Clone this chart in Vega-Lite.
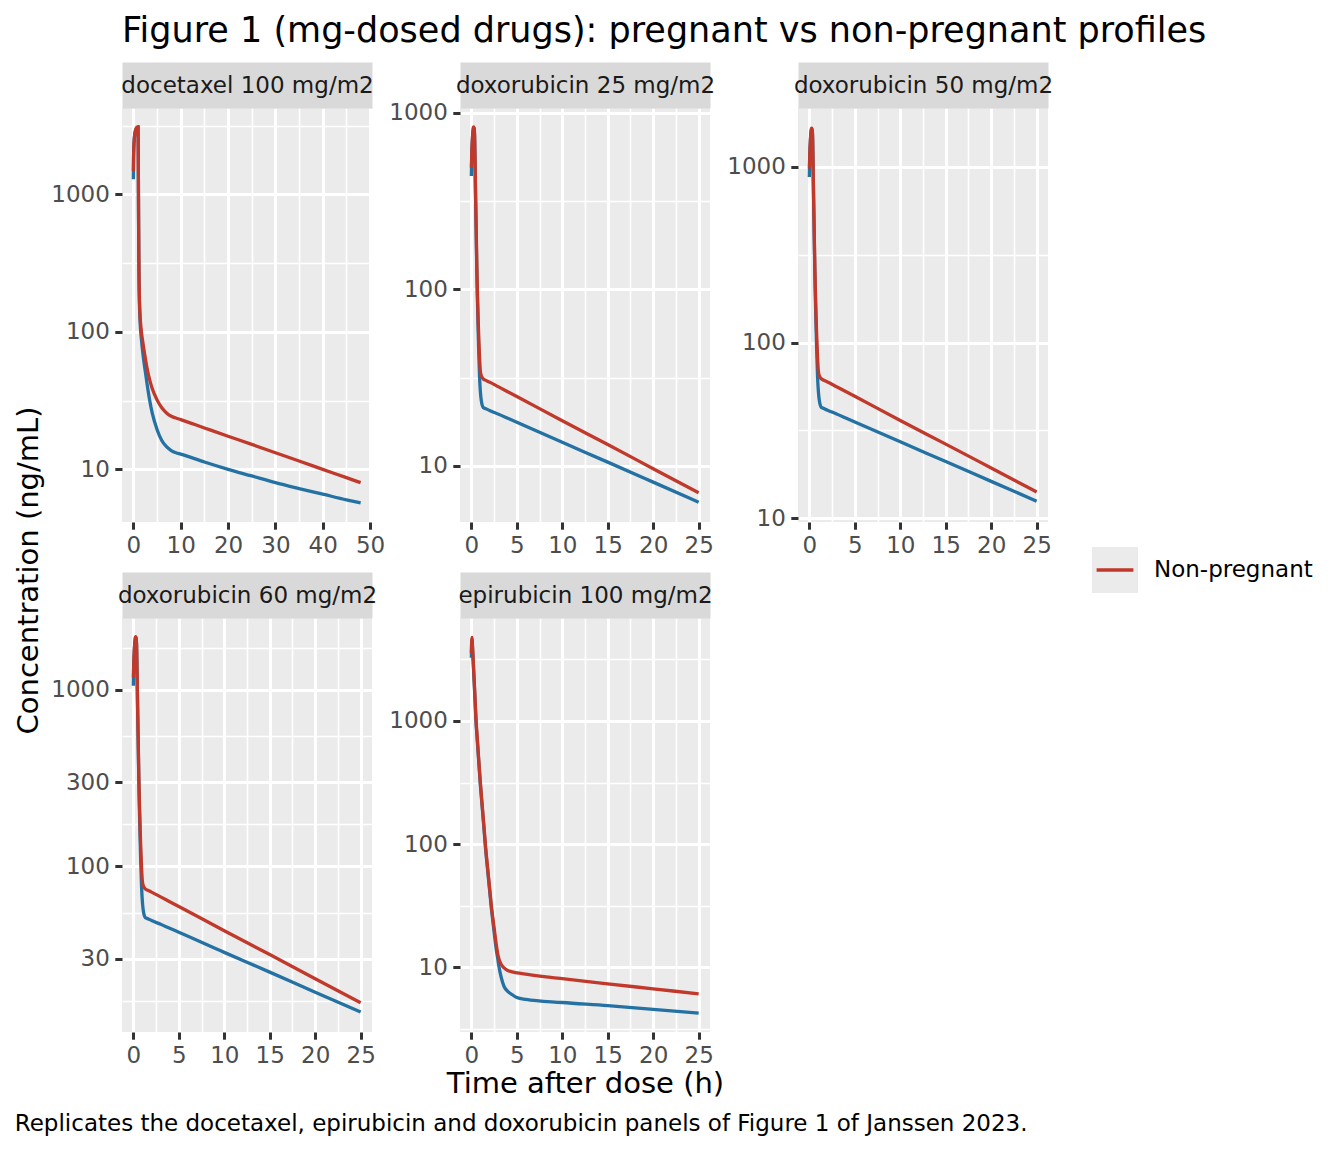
{
  "$schema": "https://vega.github.io/schema/vega-lite/v6.json",
  "background": "white",
  "padding": {"left": 14, "top": 14, "right": 5, "bottom": 5},
  "title": {"text": "Replicates the docetaxel, epirubicin and doxorubicin panels of Figure 1 of Janssen 2023.", "orient": "bottom", "anchor": "start", "frame": "bounds", "fontSize": 23, "fontWeight": "normal", "color": "#000000", "offset": 14},
  "datasets": {
    "docetaxel": [
      {"time":0,"conc":1480,"group":"Non-pregnant"},{"time":0.05,"conc":1900,"group":"Non-pregnant"},{"time":0.1,"conc":2200,"group":"Non-pregnant"},{"time":0.2,"conc":2550,"group":"Non-pregnant"},{"time":0.3,"conc":2750,"group":"Non-pregnant"},{"time":0.4,"conc":2880,"group":"Non-pregnant"},{"time":0.5,"conc":2960,"group":"Non-pregnant"},{"time":0.6,"conc":3020,"group":"Non-pregnant"},{"time":0.7,"conc":3060,"group":"Non-pregnant"},{"time":0.8,"conc":3080,"group":"Non-pregnant"},{"time":0.9,"conc":3095,"group":"Non-pregnant"},{"time":1,"conc":3100,"group":"Non-pregnant"},{"time":1.05,"conc":1500,"group":"Non-pregnant"},{"time":1.1,"conc":700,"group":"Non-pregnant"},{"time":1.15,"conc":380,"group":"Non-pregnant"},{"time":1.2,"conc":250,"group":"Non-pregnant"},{"time":1.3,"conc":165,"group":"Non-pregnant"},{"time":1.4,"conc":135,"group":"Non-pregnant"},{"time":1.5,"conc":118,"group":"Non-pregnant"},{"time":1.7,"conc":100,"group":"Non-pregnant"},{"time":2,"conc":84,"group":"Non-pregnant"},{"time":2.5,"conc":65,"group":"Non-pregnant"},{"time":3,"conc":52,"group":"Non-pregnant"},{"time":3.5,"conc":44,"group":"Non-pregnant"},{"time":4,"conc":38.5,"group":"Non-pregnant"},{"time":5,"conc":32,"group":"Non-pregnant"},{"time":6,"conc":28,"group":"Non-pregnant"},{"time":7,"conc":25.7,"group":"Non-pregnant"},{"time":8,"conc":24.3,"group":"Non-pregnant"},{"time":9,"conc":23.6,"group":"Non-pregnant"},{"time":10,"conc":23,"group":"Non-pregnant"},{"time":15,"conc":20,"group":"Non-pregnant"},{"time":20,"conc":17.4,"group":"Non-pregnant"},{"time":25,"conc":15.2,"group":"Non-pregnant"},{"time":30,"conc":13.2,"group":"Non-pregnant"},{"time":35,"conc":11.5,"group":"Non-pregnant"},{"time":40,"conc":10,"group":"Non-pregnant"},{"time":45,"conc":8.7,"group":"Non-pregnant"},{"time":48,"conc":8,"group":"Non-pregnant"},
      {"time":0,"conc":1285,"group":"Pregnant"},{"time":0.05,"conc":1870,"group":"Pregnant"},{"time":0.1,"conc":2180,"group":"Pregnant"},{"time":0.2,"conc":2520,"group":"Pregnant"},{"time":0.3,"conc":2720,"group":"Pregnant"},{"time":0.4,"conc":2850,"group":"Pregnant"},{"time":0.5,"conc":2930,"group":"Pregnant"},{"time":0.6,"conc":2990,"group":"Pregnant"},{"time":0.7,"conc":3030,"group":"Pregnant"},{"time":0.8,"conc":3050,"group":"Pregnant"},{"time":0.9,"conc":3065,"group":"Pregnant"},{"time":1,"conc":3070,"group":"Pregnant"},{"time":1.05,"conc":1450,"group":"Pregnant"},{"time":1.1,"conc":660,"group":"Pregnant"},{"time":1.15,"conc":350,"group":"Pregnant"},{"time":1.2,"conc":230,"group":"Pregnant"},{"time":1.3,"conc":152,"group":"Pregnant"},{"time":1.4,"conc":123,"group":"Pregnant"},{"time":1.5,"conc":106,"group":"Pregnant"},{"time":1.7,"conc":88,"group":"Pregnant"},{"time":2,"conc":70,"group":"Pregnant"},{"time":2.5,"conc":52,"group":"Pregnant"},{"time":3,"conc":39.5,"group":"Pregnant"},{"time":3.5,"conc":31,"group":"Pregnant"},{"time":4,"conc":25.5,"group":"Pregnant"},{"time":5,"conc":19.5,"group":"Pregnant"},{"time":6,"conc":16.2,"group":"Pregnant"},{"time":7,"conc":14.6,"group":"Pregnant"},{"time":8,"conc":13.7,"group":"Pregnant"},{"time":9,"conc":13.2,"group":"Pregnant"},{"time":10,"conc":12.9,"group":"Pregnant"},{"time":15,"conc":11.3,"group":"Pregnant"},{"time":20,"conc":10,"group":"Pregnant"},{"time":25,"conc":8.95,"group":"Pregnant"},{"time":30,"conc":8,"group":"Pregnant"},{"time":35,"conc":7.25,"group":"Pregnant"},{"time":40,"conc":6.6,"group":"Pregnant"},{"time":45,"conc":6,"group":"Pregnant"},{"time":48,"conc":5.7,"group":"Pregnant"}
    ],
    "dox25": [
      {"time":0,"conc":489,"group":"Non-pregnant"},{"time":0.05,"conc":600,"group":"Non-pregnant"},{"time":0.1,"conc":690,"group":"Non-pregnant"},{"time":0.15,"conc":760,"group":"Non-pregnant"},{"time":0.2,"conc":810,"group":"Non-pregnant"},{"time":0.25,"conc":830,"group":"Non-pregnant"},{"time":0.3,"conc":820,"group":"Non-pregnant"},{"time":0.35,"conc":760,"group":"Non-pregnant"},{"time":0.4,"conc":560,"group":"Non-pregnant"},{"time":0.45,"conc":380,"group":"Non-pregnant"},{"time":0.5,"conc":270,"group":"Non-pregnant"},{"time":0.55,"conc":190,"group":"Non-pregnant"},{"time":0.6,"conc":135,"group":"Non-pregnant"},{"time":0.65,"conc":103,"group":"Non-pregnant"},{"time":0.7,"conc":82,"group":"Non-pregnant"},{"time":0.75,"conc":67,"group":"Non-pregnant"},{"time":0.8,"conc":56,"group":"Non-pregnant"},{"time":0.9,"conc":41,"group":"Non-pregnant"},{"time":1,"conc":34,"group":"Non-pregnant"},{"time":1.1,"conc":32.3,"group":"Non-pregnant"},{"time":1.2,"conc":31.6,"group":"Non-pregnant"},{"time":1.3,"conc":31.1,"group":"Non-pregnant"},{"time":1.6,"conc":30.5,"group":"Non-pregnant"},{"time":2,"conc":29.8,"group":"Non-pregnant"},{"time":3,"conc":28,"group":"Non-pregnant"},{"time":4,"conc":26.3,"group":"Non-pregnant"},{"time":5,"conc":24.7,"group":"Non-pregnant"},{"time":10,"conc":18,"group":"Non-pregnant"},{"time":15,"conc":13.2,"group":"Non-pregnant"},{"time":20,"conc":9.64,"group":"Non-pregnant"},{"time":25,"conc":7.05,"group":"Non-pregnant"},
      {"time":0,"conc":438,"group":"Pregnant"},{"time":0.05,"conc":594,"group":"Pregnant"},{"time":0.1,"conc":683,"group":"Pregnant"},{"time":0.15,"conc":752,"group":"Pregnant"},{"time":0.2,"conc":802,"group":"Pregnant"},{"time":0.25,"conc":822,"group":"Pregnant"},{"time":0.3,"conc":812,"group":"Pregnant"},{"time":0.35,"conc":752,"group":"Pregnant"},{"time":0.4,"conc":548,"group":"Pregnant"},{"time":0.45,"conc":370,"group":"Pregnant"},{"time":0.5,"conc":260,"group":"Pregnant"},{"time":0.55,"conc":182,"group":"Pregnant"},{"time":0.6,"conc":128,"group":"Pregnant"},{"time":0.65,"conc":96,"group":"Pregnant"},{"time":0.7,"conc":74,"group":"Pregnant"},{"time":0.75,"conc":58,"group":"Pregnant"},{"time":0.8,"conc":46,"group":"Pregnant"},{"time":0.9,"conc":32,"group":"Pregnant"},{"time":1,"conc":26,"group":"Pregnant"},{"time":1.1,"conc":23.3,"group":"Pregnant"},{"time":1.2,"conc":22,"group":"Pregnant"},{"time":1.3,"conc":21.4,"group":"Pregnant"},{"time":1.6,"conc":21.07,"group":"Pregnant"},{"time":2,"conc":20.6,"group":"Pregnant"},{"time":3,"conc":19.6,"group":"Pregnant"},{"time":4,"conc":18.6,"group":"Pregnant"},{"time":5,"conc":17.65,"group":"Pregnant"},{"time":10,"conc":13.6,"group":"Pregnant"},{"time":15,"conc":10.5,"group":"Pregnant"},{"time":20,"conc":8.09,"group":"Pregnant"},{"time":25,"conc":6.23,"group":"Pregnant"}
    ],
    "dox50": [
      {"time":0,"conc":978,"group":"Non-pregnant"},{"time":0.05,"conc":1200,"group":"Non-pregnant"},{"time":0.1,"conc":1380,"group":"Non-pregnant"},{"time":0.15,"conc":1520,"group":"Non-pregnant"},{"time":0.2,"conc":1620,"group":"Non-pregnant"},{"time":0.25,"conc":1660,"group":"Non-pregnant"},{"time":0.3,"conc":1640,"group":"Non-pregnant"},{"time":0.35,"conc":1520,"group":"Non-pregnant"},{"time":0.4,"conc":1120,"group":"Non-pregnant"},{"time":0.45,"conc":760,"group":"Non-pregnant"},{"time":0.5,"conc":540,"group":"Non-pregnant"},{"time":0.55,"conc":380,"group":"Non-pregnant"},{"time":0.6,"conc":270,"group":"Non-pregnant"},{"time":0.65,"conc":206,"group":"Non-pregnant"},{"time":0.7,"conc":164,"group":"Non-pregnant"},{"time":0.75,"conc":134,"group":"Non-pregnant"},{"time":0.8,"conc":112,"group":"Non-pregnant"},{"time":0.9,"conc":82,"group":"Non-pregnant"},{"time":1,"conc":68,"group":"Non-pregnant"},{"time":1.1,"conc":64.6,"group":"Non-pregnant"},{"time":1.2,"conc":63.2,"group":"Non-pregnant"},{"time":1.3,"conc":62.2,"group":"Non-pregnant"},{"time":1.6,"conc":61,"group":"Non-pregnant"},{"time":2,"conc":59.6,"group":"Non-pregnant"},{"time":3,"conc":56,"group":"Non-pregnant"},{"time":4,"conc":52.6,"group":"Non-pregnant"},{"time":5,"conc":49.4,"group":"Non-pregnant"},{"time":10,"conc":36,"group":"Non-pregnant"},{"time":15,"conc":26.4,"group":"Non-pregnant"},{"time":20,"conc":19.3,"group":"Non-pregnant"},{"time":25,"conc":14.1,"group":"Non-pregnant"},
      {"time":0,"conc":876,"group":"Pregnant"},{"time":0.05,"conc":1188,"group":"Pregnant"},{"time":0.1,"conc":1366,"group":"Pregnant"},{"time":0.15,"conc":1504,"group":"Pregnant"},{"time":0.2,"conc":1604,"group":"Pregnant"},{"time":0.25,"conc":1644,"group":"Pregnant"},{"time":0.3,"conc":1624,"group":"Pregnant"},{"time":0.35,"conc":1504,"group":"Pregnant"},{"time":0.4,"conc":1096,"group":"Pregnant"},{"time":0.45,"conc":740,"group":"Pregnant"},{"time":0.5,"conc":520,"group":"Pregnant"},{"time":0.55,"conc":364,"group":"Pregnant"},{"time":0.6,"conc":256,"group":"Pregnant"},{"time":0.65,"conc":192,"group":"Pregnant"},{"time":0.7,"conc":148,"group":"Pregnant"},{"time":0.75,"conc":116,"group":"Pregnant"},{"time":0.8,"conc":92,"group":"Pregnant"},{"time":0.9,"conc":64,"group":"Pregnant"},{"time":1,"conc":52,"group":"Pregnant"},{"time":1.1,"conc":46.6,"group":"Pregnant"},{"time":1.2,"conc":44,"group":"Pregnant"},{"time":1.3,"conc":42.8,"group":"Pregnant"},{"time":1.6,"conc":42.1,"group":"Pregnant"},{"time":2,"conc":41.2,"group":"Pregnant"},{"time":3,"conc":39.2,"group":"Pregnant"},{"time":4,"conc":37.2,"group":"Pregnant"},{"time":5,"conc":35.3,"group":"Pregnant"},{"time":10,"conc":27.2,"group":"Pregnant"},{"time":15,"conc":21,"group":"Pregnant"},{"time":20,"conc":16.2,"group":"Pregnant"},{"time":25,"conc":12.5,"group":"Pregnant"}
    ],
    "dox60": [
      {"time":0,"conc":1174,"group":"Non-pregnant"},{"time":0.05,"conc":1440,"group":"Non-pregnant"},{"time":0.1,"conc":1656,"group":"Non-pregnant"},{"time":0.15,"conc":1824,"group":"Non-pregnant"},{"time":0.2,"conc":1944,"group":"Non-pregnant"},{"time":0.25,"conc":1992,"group":"Non-pregnant"},{"time":0.3,"conc":1968,"group":"Non-pregnant"},{"time":0.35,"conc":1824,"group":"Non-pregnant"},{"time":0.4,"conc":1344,"group":"Non-pregnant"},{"time":0.45,"conc":912,"group":"Non-pregnant"},{"time":0.5,"conc":648,"group":"Non-pregnant"},{"time":0.55,"conc":456,"group":"Non-pregnant"},{"time":0.6,"conc":324,"group":"Non-pregnant"},{"time":0.65,"conc":247,"group":"Non-pregnant"},{"time":0.7,"conc":197,"group":"Non-pregnant"},{"time":0.75,"conc":161,"group":"Non-pregnant"},{"time":0.8,"conc":134,"group":"Non-pregnant"},{"time":0.9,"conc":98.4,"group":"Non-pregnant"},{"time":1,"conc":81.6,"group":"Non-pregnant"},{"time":1.1,"conc":77.5,"group":"Non-pregnant"},{"time":1.2,"conc":75.8,"group":"Non-pregnant"},{"time":1.3,"conc":74.6,"group":"Non-pregnant"},{"time":1.6,"conc":73.2,"group":"Non-pregnant"},{"time":2,"conc":71.5,"group":"Non-pregnant"},{"time":3,"conc":67.2,"group":"Non-pregnant"},{"time":4,"conc":63.1,"group":"Non-pregnant"},{"time":5,"conc":59.3,"group":"Non-pregnant"},{"time":10,"conc":43.2,"group":"Non-pregnant"},{"time":15,"conc":31.7,"group":"Non-pregnant"},{"time":20,"conc":23.1,"group":"Non-pregnant"},{"time":25,"conc":16.9,"group":"Non-pregnant"},
      {"time":0,"conc":1051,"group":"Pregnant"},{"time":0.05,"conc":1426,"group":"Pregnant"},{"time":0.1,"conc":1639,"group":"Pregnant"},{"time":0.15,"conc":1805,"group":"Pregnant"},{"time":0.2,"conc":1925,"group":"Pregnant"},{"time":0.25,"conc":1973,"group":"Pregnant"},{"time":0.3,"conc":1949,"group":"Pregnant"},{"time":0.35,"conc":1805,"group":"Pregnant"},{"time":0.4,"conc":1315,"group":"Pregnant"},{"time":0.45,"conc":888,"group":"Pregnant"},{"time":0.5,"conc":624,"group":"Pregnant"},{"time":0.55,"conc":437,"group":"Pregnant"},{"time":0.6,"conc":307,"group":"Pregnant"},{"time":0.65,"conc":230,"group":"Pregnant"},{"time":0.7,"conc":178,"group":"Pregnant"},{"time":0.75,"conc":139,"group":"Pregnant"},{"time":0.8,"conc":110,"group":"Pregnant"},{"time":0.9,"conc":76.8,"group":"Pregnant"},{"time":1,"conc":62.4,"group":"Pregnant"},{"time":1.1,"conc":55.9,"group":"Pregnant"},{"time":1.2,"conc":52.8,"group":"Pregnant"},{"time":1.3,"conc":51.4,"group":"Pregnant"},{"time":1.6,"conc":50.6,"group":"Pregnant"},{"time":2,"conc":49.4,"group":"Pregnant"},{"time":3,"conc":47,"group":"Pregnant"},{"time":4,"conc":44.6,"group":"Pregnant"},{"time":5,"conc":42.4,"group":"Pregnant"},{"time":10,"conc":32.6,"group":"Pregnant"},{"time":15,"conc":25.2,"group":"Pregnant"},{"time":20,"conc":19.4,"group":"Pregnant"},{"time":25,"conc":15,"group":"Pregnant"}
    ],
    "epi": [
      {"time":0,"conc":3550,"group":"Non-pregnant"},{"time":0.04,"conc":4500,"group":"Non-pregnant"},{"time":0.08,"conc":4770,"group":"Non-pregnant"},{"time":0.12,"conc":4150,"group":"Non-pregnant"},{"time":0.2,"conc":3150,"group":"Non-pregnant"},{"time":0.3,"conc":2220,"group":"Non-pregnant"},{"time":0.4,"conc":1550,"group":"Non-pregnant"},{"time":0.52,"conc":1000,"group":"Non-pregnant"},{"time":0.65,"conc":725,"group":"Non-pregnant"},{"time":0.8,"conc":500,"group":"Non-pregnant"},{"time":0.99,"conc":316,"group":"Non-pregnant"},{"time":1.2,"conc":204,"group":"Non-pregnant"},{"time":1.4,"conc":135,"group":"Non-pregnant"},{"time":1.54,"conc":100,"group":"Non-pregnant"},{"time":1.8,"conc":63,"group":"Non-pregnant"},{"time":2,"conc":44.7,"group":"Non-pregnant"},{"time":2.2,"conc":31.6,"group":"Non-pregnant"},{"time":2.4,"conc":24,"group":"Non-pregnant"},{"time":2.6,"conc":18.4,"group":"Non-pregnant"},{"time":2.75,"conc":15.1,"group":"Non-pregnant"},{"time":2.9,"conc":12.9,"group":"Non-pregnant"},{"time":3.05,"conc":11.6,"group":"Non-pregnant"},{"time":3.3,"conc":10.5,"group":"Non-pregnant"},{"time":3.6,"conc":9.9,"group":"Non-pregnant"},{"time":4,"conc":9.45,"group":"Non-pregnant"},{"time":4.5,"conc":9.2,"group":"Non-pregnant"},{"time":5.57,"conc":8.9,"group":"Non-pregnant"},{"time":10,"conc":8.1,"group":"Non-pregnant"},{"time":15,"conc":7.36,"group":"Non-pregnant"},{"time":20,"conc":6.7,"group":"Non-pregnant"},{"time":25,"conc":6.1,"group":"Non-pregnant"},
      {"time":0,"conc":3260,"group":"Pregnant"},{"time":0.04,"conc":4320,"group":"Pregnant"},{"time":0.08,"conc":4580,"group":"Pregnant"},{"time":0.12,"conc":3980,"group":"Pregnant"},{"time":0.2,"conc":3020,"group":"Pregnant"},{"time":0.3,"conc":2130,"group":"Pregnant"},{"time":0.4,"conc":1490,"group":"Pregnant"},{"time":0.52,"conc":960,"group":"Pregnant"},{"time":0.65,"conc":696,"group":"Pregnant"},{"time":0.8,"conc":480,"group":"Pregnant"},{"time":0.99,"conc":303,"group":"Pregnant"},{"time":1.2,"conc":196,"group":"Pregnant"},{"time":1.4,"conc":130,"group":"Pregnant"},{"time":1.54,"conc":96,"group":"Pregnant"},{"time":1.8,"conc":60.5,"group":"Pregnant"},{"time":2,"conc":42.9,"group":"Pregnant"},{"time":2.2,"conc":30.2,"group":"Pregnant"},{"time":2.4,"conc":22.5,"group":"Pregnant"},{"time":2.6,"conc":16.8,"group":"Pregnant"},{"time":2.75,"conc":13.8,"group":"Pregnant"},{"time":2.9,"conc":11.8,"group":"Pregnant"},{"time":3.05,"conc":10,"group":"Pregnant"},{"time":3.3,"conc":8.2,"group":"Pregnant"},{"time":3.6,"conc":7,"group":"Pregnant"},{"time":4,"conc":6.4,"group":"Pregnant"},{"time":4.5,"conc":6,"group":"Pregnant"},{"time":5,"conc":5.7,"group":"Pregnant"},{"time":6,"conc":5.5,"group":"Pregnant"},{"time":10,"conc":5.19,"group":"Pregnant"},{"time":15,"conc":4.9,"group":"Pregnant"},{"time":20,"conc":4.57,"group":"Pregnant"},{"time":25,"conc":4.25,"group":"Pregnant"}
    ]
  },
  "vconcat": [
    {
      "title": {"text": "Figure 1 (mg-dosed drugs): pregnant vs non-pregnant profiles", "anchor": "start", "frame": "group", "fontSize": 35, "fontWeight": "normal", "color": "#000000", "offset": 25},
      "columns": 3,
      "bounds": "flush",
      "spacing": {"row": 96, "column": 88},
      "concat": [
        {
          "width": 250, "height": 414,
          "data": {"name": "docetaxel"},
          "layer": [
            {"transform": [{"filter": "datum.group === 'Pregnant'"}],
             "mark": {"type": "line", "strokeWidth": 3.3, "interpolate": "monotone"},
             "encoding": {
               "x": {"field": "time", "type": "quantitative", "scale": {"domain": [-2.4, 50.4], "nice": false, "zero": false},
                     "axis": {"orient": "top", "title": "docetaxel 100 mg/m2", "labels": false, "ticks": false, "grid": false, "domain": true, "domainColor": "#D9D9D9", "domainWidth": 46, "offset": 23, "titleY": 0, "titleBaseline": "middle", "titleFontSize": 23, "titleColor": "#1A1A1A", "titlePadding": 0}},
               "y": {"field": "conc", "type": "quantitative", "scale": {"type": "log", "domain": [4.14, 4242], "nice": false},
                     "axis": {"title": null, "values": [10, 31.62, 100, 316.2, 1000, 3162], "format": "d", "labelExpr": "indexof([10,100,1000], datum.value) >= 0 ? datum.label : ''", "tickOpacity": {"condition": {"test": "indexof([10,100,1000], datum.value) < 0", "value": 0}, "value": 1}, "gridWidth": {"condition": {"test": "indexof([10,100,1000], datum.value) < 0", "value": 1.6}, "value": 3}}},
               "color": {"field": "group", "type": "nominal", "scale": {"domain": ["Non-pregnant", "Pregnant"], "range": ["#C0392B", "#2471A3"]},
                         "legend": {"orient": "none", "legendX": 968, "legendY": 437, "title": null, "values": ["Non-pregnant"], "padding": 0, "symbolType": "M-0.8,0H1V-1H-1V1H1V0Z", "symbolSize": 2116, "symbolStrokeWidth": 3.3, "symbolDash": [36.8, 2000], "symbolFillColor": "#EBEBEB", "labelFontSize": 23, "labelColor": "#000000", "labelOffset": 14, "encode": {"symbols": {"update": {"fill": {"value": "#EBEBEB"}, "fillOpacity": {"value": 1}}}}}}
             }},
            {"transform": [{"filter": "datum.group === 'Non-pregnant'"}],
             "mark": {"type": "line", "strokeWidth": 3.3, "interpolate": "monotone"},
             "encoding": {
               "x": {"field": "time", "type": "quantitative", "scale": {"domain": [-2.4, 50.4], "nice": false, "zero": false},
                     "axis": {"orient": "bottom", "grid": true, "title": null, "values": [0,5,10,15,20,25,30,35,40,45,50], "format": "d", "labelExpr": "datum.value % 10 === 0 ? datum.label : ''", "tickOpacity": {"condition": {"test": "datum.value % 10 !== 0", "value": 0}, "value": 1}, "gridWidth": {"condition": {"test": "datum.value % 10 !== 0", "value": 1.6}, "value": 3}}},
               "y": {"field": "conc", "type": "quantitative", "scale": {"type": "log", "domain": [4.14, 4242], "nice": false},
                     "axis": {"title": null, "values": [10, 31.62, 100, 316.2, 1000, 3162], "format": "d", "labelExpr": "indexof([10,100,1000], datum.value) >= 0 ? datum.label : ''", "tickOpacity": {"condition": {"test": "indexof([10,100,1000], datum.value) < 0", "value": 0}, "value": 1}, "gridWidth": {"condition": {"test": "indexof([10,100,1000], datum.value) < 0", "value": 1.6}, "value": 3}}},
               "color": {"field": "group", "type": "nominal", "scale": {"domain": ["Non-pregnant", "Pregnant"], "range": ["#C0392B", "#2471A3"]},
                         "legend": {"orient": "none", "legendX": 968, "legendY": 437, "title": null, "values": ["Non-pregnant"], "padding": 0, "symbolType": "M-0.8,0H1V-1H-1V1H1V0Z", "symbolSize": 2116, "symbolStrokeWidth": 3.3, "symbolDash": [36.8, 2000], "symbolFillColor": "#EBEBEB", "labelFontSize": 23, "labelColor": "#000000", "labelOffset": 14, "encode": {"symbols": {"update": {"fill": {"value": "#EBEBEB"}, "fillOpacity": {"value": 1}}}}}}
             }}
          ],
          "resolve": {"axis": {"x": "independent"}}
        },
        {
          "width": 250, "height": 414,
          "data": {"name": "dox25"},
          "layer": [
            {"transform": [{"filter": "datum.group === 'Pregnant'"}],
             "mark": {"type": "line", "strokeWidth": 3.3, "interpolate": "monotone"},
             "encoding": {
               "x": {"field": "time", "type": "quantitative", "scale": {"domain": [-1.25, 26.25], "nice": false, "zero": false},
                     "axis": {"orient": "top", "title": "doxorubicin 25 mg/m2", "labels": false, "ticks": false, "grid": false, "domain": true, "domainColor": "#D9D9D9", "domainWidth": 46, "offset": 23, "titleY": 0, "titleBaseline": "middle", "titleFontSize": 23, "titleColor": "#1A1A1A", "titlePadding": 0}},
               "y": {"field": "conc", "type": "quantitative", "scale": {"type": "log", "domain": [4.81, 1063], "nice": false},
                     "axis": {"title": null, "values": [10, 31.62, 100, 316.2, 1000], "format": "d", "labelExpr": "indexof([10,100,1000], datum.value) >= 0 ? datum.label : ''", "tickOpacity": {"condition": {"test": "indexof([10,100,1000], datum.value) < 0", "value": 0}, "value": 1}, "gridWidth": {"condition": {"test": "indexof([10,100,1000], datum.value) < 0", "value": 1.6}, "value": 3}}},
               "color": {"field": "group", "type": "nominal", "scale": {"domain": ["Non-pregnant", "Pregnant"], "range": ["#C0392B", "#2471A3"]},
                         "legend": {"orient": "none", "legendX": 968, "legendY": 437, "title": null, "values": ["Non-pregnant"], "padding": 0, "symbolType": "M-0.8,0H1V-1H-1V1H1V0Z", "symbolSize": 2116, "symbolStrokeWidth": 3.3, "symbolDash": [36.8, 2000], "symbolFillColor": "#EBEBEB", "labelFontSize": 23, "labelColor": "#000000", "labelOffset": 14, "encode": {"symbols": {"update": {"fill": {"value": "#EBEBEB"}, "fillOpacity": {"value": 1}}}}}}
             }},
            {"transform": [{"filter": "datum.group === 'Non-pregnant'"}],
             "mark": {"type": "line", "strokeWidth": 3.3, "interpolate": "monotone"},
             "encoding": {
               "x": {"field": "time", "type": "quantitative", "scale": {"domain": [-1.25, 26.25], "nice": false, "zero": false},
                     "axis": {"orient": "bottom", "grid": true, "title": null, "values": [0,2.5,5,7.5,10,12.5,15,17.5,20,22.5,25], "format": "d", "labelExpr": "datum.value % 5 === 0 ? datum.label : ''", "tickOpacity": {"condition": {"test": "datum.value % 5 !== 0", "value": 0}, "value": 1}, "gridWidth": {"condition": {"test": "datum.value % 5 !== 0", "value": 1.6}, "value": 3}}},
               "y": {"field": "conc", "type": "quantitative", "scale": {"type": "log", "domain": [4.81, 1063], "nice": false},
                     "axis": {"title": null, "values": [10, 31.62, 100, 316.2, 1000], "format": "d", "labelExpr": "indexof([10,100,1000], datum.value) >= 0 ? datum.label : ''", "tickOpacity": {"condition": {"test": "indexof([10,100,1000], datum.value) < 0", "value": 0}, "value": 1}, "gridWidth": {"condition": {"test": "indexof([10,100,1000], datum.value) < 0", "value": 1.6}, "value": 3}}},
               "color": {"field": "group", "type": "nominal", "scale": {"domain": ["Non-pregnant", "Pregnant"], "range": ["#C0392B", "#2471A3"]},
                         "legend": {"orient": "none", "legendX": 968, "legendY": 437, "title": null, "values": ["Non-pregnant"], "padding": 0, "symbolType": "M-0.8,0H1V-1H-1V1H1V0Z", "symbolSize": 2116, "symbolStrokeWidth": 3.3, "symbolDash": [36.8, 2000], "symbolFillColor": "#EBEBEB", "labelFontSize": 23, "labelColor": "#000000", "labelOffset": 14, "encode": {"symbols": {"update": {"fill": {"value": "#EBEBEB"}, "fillOpacity": {"value": 1}}}}}}
             }}
          ],
          "resolve": {"axis": {"x": "independent"}}
        },
        {
          "width": 250, "height": 414,
          "data": {"name": "dox50"},
          "layer": [
            {"transform": [{"filter": "datum.group === 'Pregnant'"}],
             "mark": {"type": "line", "strokeWidth": 3.3, "interpolate": "monotone"},
             "encoding": {
               "x": {"field": "time", "type": "quantitative", "scale": {"domain": [-1.25, 26.25], "nice": false, "zero": false},
                     "axis": {"orient": "top", "title": "doxorubicin 50 mg/m2", "labels": false, "ticks": false, "grid": false, "domain": true, "domainColor": "#D9D9D9", "domainWidth": 46, "offset": 23, "titleY": 0, "titleBaseline": "middle", "titleFontSize": 23, "titleColor": "#1A1A1A", "titlePadding": 0}},
               "y": {"field": "conc", "type": "quantitative", "scale": {"type": "log", "domain": [9.51, 2163], "nice": false},
                     "axis": {"title": null, "values": [10, 31.62, 100, 316.2, 1000], "format": "d", "labelExpr": "indexof([10,100,1000], datum.value) >= 0 ? datum.label : ''", "tickOpacity": {"condition": {"test": "indexof([10,100,1000], datum.value) < 0", "value": 0}, "value": 1}, "gridWidth": {"condition": {"test": "indexof([10,100,1000], datum.value) < 0", "value": 1.6}, "value": 3}}},
               "color": {"field": "group", "type": "nominal", "scale": {"domain": ["Non-pregnant", "Pregnant"], "range": ["#C0392B", "#2471A3"]},
                         "legend": {"orient": "none", "legendX": 968, "legendY": 437, "title": null, "values": ["Non-pregnant"], "padding": 0, "symbolType": "M-0.8,0H1V-1H-1V1H1V0Z", "symbolSize": 2116, "symbolStrokeWidth": 3.3, "symbolDash": [36.8, 2000], "symbolFillColor": "#EBEBEB", "labelFontSize": 23, "labelColor": "#000000", "labelOffset": 14, "encode": {"symbols": {"update": {"fill": {"value": "#EBEBEB"}, "fillOpacity": {"value": 1}}}}}}
             }},
            {"transform": [{"filter": "datum.group === 'Non-pregnant'"}],
             "mark": {"type": "line", "strokeWidth": 3.3, "interpolate": "monotone"},
             "encoding": {
               "x": {"field": "time", "type": "quantitative", "scale": {"domain": [-1.25, 26.25], "nice": false, "zero": false},
                     "axis": {"orient": "bottom", "grid": true, "title": null, "values": [0,2.5,5,7.5,10,12.5,15,17.5,20,22.5,25], "format": "d", "labelExpr": "datum.value % 5 === 0 ? datum.label : ''", "tickOpacity": {"condition": {"test": "datum.value % 5 !== 0", "value": 0}, "value": 1}, "gridWidth": {"condition": {"test": "datum.value % 5 !== 0", "value": 1.6}, "value": 3}}},
               "y": {"field": "conc", "type": "quantitative", "scale": {"type": "log", "domain": [9.51, 2163], "nice": false},
                     "axis": {"title": null, "values": [10, 31.62, 100, 316.2, 1000], "format": "d", "labelExpr": "indexof([10,100,1000], datum.value) >= 0 ? datum.label : ''", "tickOpacity": {"condition": {"test": "indexof([10,100,1000], datum.value) < 0", "value": 0}, "value": 1}, "gridWidth": {"condition": {"test": "indexof([10,100,1000], datum.value) < 0", "value": 1.6}, "value": 3}}},
               "color": {"field": "group", "type": "nominal", "scale": {"domain": ["Non-pregnant", "Pregnant"], "range": ["#C0392B", "#2471A3"]},
                         "legend": {"orient": "none", "legendX": 968, "legendY": 437, "title": null, "values": ["Non-pregnant"], "padding": 0, "symbolType": "M-0.8,0H1V-1H-1V1H1V0Z", "symbolSize": 2116, "symbolStrokeWidth": 3.3, "symbolDash": [36.8, 2000], "symbolFillColor": "#EBEBEB", "labelFontSize": 23, "labelColor": "#000000", "labelOffset": 14, "encode": {"symbols": {"update": {"fill": {"value": "#EBEBEB"}, "fillOpacity": {"value": 1}}}}}}
             }}
          ],
          "resolve": {"axis": {"x": "independent"}}
        },
        {
          "width": 250, "height": 414,
          "data": {"name": "dox60"},
          "layer": [
            {"transform": [{"filter": "datum.group === 'Pregnant'"}],
             "mark": {"type": "line", "strokeWidth": 3.3, "interpolate": "monotone"},
             "encoding": {
               "x": {"field": "time", "type": "quantitative", "scale": {"domain": [-1.25, 26.25], "nice": false, "zero": false},
                     "axis": {"orient": "top", "title": "doxorubicin 60 mg/m2", "labels": false, "ticks": false, "grid": false, "domain": true, "domainColor": "#D9D9D9", "domainWidth": 46, "offset": 23, "titleY": 0, "titleBaseline": "middle", "titleFontSize": 23, "titleColor": "#1A1A1A", "titlePadding": 0}},
               "y": {"field": "conc", "type": "quantitative", "scale": {"type": "log", "domain": [11.55, 2544], "nice": false},
                     "axis": {"title": "Concentration (ng/mL)", "titleY": -48, "titlePadding": 7, "values": [17.32, 30, 54.77, 100, 173.2, 300, 547.7, 1000, 1732], "format": "d", "labelExpr": "indexof([30,100,300,1000], datum.value) >= 0 ? datum.label : ''", "tickOpacity": {"condition": {"test": "indexof([30,100,300,1000], datum.value) < 0", "value": 0}, "value": 1}, "gridWidth": {"condition": {"test": "indexof([30,100,300,1000], datum.value) < 0", "value": 1.6}, "value": 3}}},
               "color": {"field": "group", "type": "nominal", "scale": {"domain": ["Non-pregnant", "Pregnant"], "range": ["#C0392B", "#2471A3"]},
                         "legend": {"orient": "none", "legendX": 968, "legendY": 437, "title": null, "values": ["Non-pregnant"], "padding": 0, "symbolType": "M-0.8,0H1V-1H-1V1H1V0Z", "symbolSize": 2116, "symbolStrokeWidth": 3.3, "symbolDash": [36.8, 2000], "symbolFillColor": "#EBEBEB", "labelFontSize": 23, "labelColor": "#000000", "labelOffset": 14, "encode": {"symbols": {"update": {"fill": {"value": "#EBEBEB"}, "fillOpacity": {"value": 1}}}}}}
             }},
            {"transform": [{"filter": "datum.group === 'Non-pregnant'"}],
             "mark": {"type": "line", "strokeWidth": 3.3, "interpolate": "monotone"},
             "encoding": {
               "x": {"field": "time", "type": "quantitative", "scale": {"domain": [-1.25, 26.25], "nice": false, "zero": false},
                     "axis": {"orient": "bottom", "grid": true, "title": null, "values": [0,2.5,5,7.5,10,12.5,15,17.5,20,22.5,25], "format": "d", "labelExpr": "datum.value % 5 === 0 ? datum.label : ''", "tickOpacity": {"condition": {"test": "datum.value % 5 !== 0", "value": 0}, "value": 1}, "gridWidth": {"condition": {"test": "datum.value % 5 !== 0", "value": 1.6}, "value": 3}}},
               "y": {"field": "conc", "type": "quantitative", "scale": {"type": "log", "domain": [11.55, 2544], "nice": false},
                     "axis": {"title": "Concentration (ng/mL)", "titleY": -48, "titlePadding": 7, "values": [17.32, 30, 54.77, 100, 173.2, 300, 547.7, 1000, 1732], "format": "d", "labelExpr": "indexof([30,100,300,1000], datum.value) >= 0 ? datum.label : ''", "tickOpacity": {"condition": {"test": "indexof([30,100,300,1000], datum.value) < 0", "value": 0}, "value": 1}, "gridWidth": {"condition": {"test": "indexof([30,100,300,1000], datum.value) < 0", "value": 1.6}, "value": 3}}},
               "color": {"field": "group", "type": "nominal", "scale": {"domain": ["Non-pregnant", "Pregnant"], "range": ["#C0392B", "#2471A3"]},
                         "legend": {"orient": "none", "legendX": 968, "legendY": 437, "title": null, "values": ["Non-pregnant"], "padding": 0, "symbolType": "M-0.8,0H1V-1H-1V1H1V0Z", "symbolSize": 2116, "symbolStrokeWidth": 3.3, "symbolDash": [36.8, 2000], "symbolFillColor": "#EBEBEB", "labelFontSize": 23, "labelColor": "#000000", "labelOffset": 14, "encode": {"symbols": {"update": {"fill": {"value": "#EBEBEB"}, "fillOpacity": {"value": 1}}}}}}
             }}
          ],
          "resolve": {"axis": {"x": "independent"}}
        },
        {
          "width": 250, "height": 414,
          "data": {"name": "epi"},
          "layer": [
            {"transform": [{"filter": "datum.group === 'Pregnant'"}],
             "mark": {"type": "line", "strokeWidth": 3.3, "interpolate": "monotone"},
             "encoding": {
               "x": {"field": "time", "type": "quantitative", "scale": {"domain": [-1.25, 26.25], "nice": false, "zero": false},
                     "axis": {"orient": "top", "title": "epirubicin 100 mg/m2", "labels": false, "ticks": false, "grid": false, "domain": true, "domainColor": "#D9D9D9", "domainWidth": 46, "offset": 23, "titleY": 0, "titleBaseline": "middle", "titleFontSize": 23, "titleColor": "#1A1A1A", "titlePadding": 0}},
               "y": {"field": "conc", "type": "quantitative", "scale": {"type": "log", "domain": [2.99, 6848], "nice": false},
                     "axis": {"title": null, "values": [3.162, 10, 31.62, 100, 316.2, 1000, 3162], "format": "d", "labelExpr": "indexof([10,100,1000], datum.value) >= 0 ? datum.label : ''", "tickOpacity": {"condition": {"test": "indexof([10,100,1000], datum.value) < 0", "value": 0}, "value": 1}, "gridWidth": {"condition": {"test": "indexof([10,100,1000], datum.value) < 0", "value": 1.6}, "value": 3}}},
               "color": {"field": "group", "type": "nominal", "scale": {"domain": ["Non-pregnant", "Pregnant"], "range": ["#C0392B", "#2471A3"]},
                         "legend": {"orient": "none", "legendX": 968, "legendY": 437, "title": null, "values": ["Non-pregnant"], "padding": 0, "symbolType": "M-0.8,0H1V-1H-1V1H1V0Z", "symbolSize": 2116, "symbolStrokeWidth": 3.3, "symbolDash": [36.8, 2000], "symbolFillColor": "#EBEBEB", "labelFontSize": 23, "labelColor": "#000000", "labelOffset": 14, "encode": {"symbols": {"update": {"fill": {"value": "#EBEBEB"}, "fillOpacity": {"value": 1}}}}}}
             }},
            {"transform": [{"filter": "datum.group === 'Non-pregnant'"}],
             "mark": {"type": "line", "strokeWidth": 3.3, "interpolate": "monotone"},
             "encoding": {
               "x": {"field": "time", "type": "quantitative", "scale": {"domain": [-1.25, 26.25], "nice": false, "zero": false},
                     "axis": {"orient": "bottom", "grid": true, "title": "Time after dose (h)", "titlePadding": 2, "values": [0,2.5,5,7.5,10,12.5,15,17.5,20,22.5,25], "format": "d", "labelExpr": "datum.value % 5 === 0 ? datum.label : ''", "tickOpacity": {"condition": {"test": "datum.value % 5 !== 0", "value": 0}, "value": 1}, "gridWidth": {"condition": {"test": "datum.value % 5 !== 0", "value": 1.6}, "value": 3}}},
               "y": {"field": "conc", "type": "quantitative", "scale": {"type": "log", "domain": [2.99, 6848], "nice": false},
                     "axis": {"title": null, "values": [3.162, 10, 31.62, 100, 316.2, 1000, 3162], "format": "d", "labelExpr": "indexof([10,100,1000], datum.value) >= 0 ? datum.label : ''", "tickOpacity": {"condition": {"test": "indexof([10,100,1000], datum.value) < 0", "value": 0}, "value": 1}, "gridWidth": {"condition": {"test": "indexof([10,100,1000], datum.value) < 0", "value": 1.6}, "value": 3}}},
               "color": {"field": "group", "type": "nominal", "scale": {"domain": ["Non-pregnant", "Pregnant"], "range": ["#C0392B", "#2471A3"]},
                         "legend": {"orient": "none", "legendX": 968, "legendY": 437, "title": null, "values": ["Non-pregnant"], "padding": 0, "symbolType": "M-0.8,0H1V-1H-1V1H1V0Z", "symbolSize": 2116, "symbolStrokeWidth": 3.3, "symbolDash": [36.8, 2000], "symbolFillColor": "#EBEBEB", "labelFontSize": 23, "labelColor": "#000000", "labelOffset": 14, "encode": {"symbols": {"update": {"fill": {"value": "#EBEBEB"}, "fillOpacity": {"value": 1}}}}}}
             }}
          ],
          "resolve": {"axis": {"x": "independent"}}
        }
      ]
    }
  ],
  "config": {
    "font": "DejaVu Sans",
    "view": {"fill": "#EBEBEB", "stroke": null},
    "axis": {"domain": false, "gridColor": "#FFFFFF", "tickColor": "#333333", "tickWidth": 3, "tickSize": 7.2, "labelPadding": 5.5, "labelFontSize": 23, "labelColor": "#4D4D4D", "labelFlush": false, "labelOverlap": false, "titleFontSize": 29, "titleFontWeight": "normal", "titleColor": "#000000"},
    "title": {"fontWeight": "normal", "color": "#000000"}
  }
}
